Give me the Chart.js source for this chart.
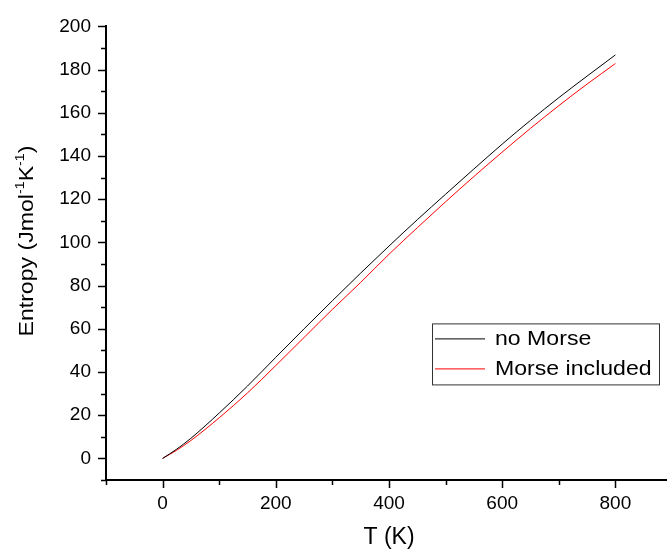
<!DOCTYPE html>
<html>
<head>
<meta charset="utf-8">
<script src="https://cdn.jsdelivr.net/npm/chart.js@4/dist/chart.umd.min.js"></script>
<style>
  html, body { margin: 0; padding: 0; background: #fff; overflow: hidden; }
  #wrap { width: 667px; height: 551px; overflow: hidden; }
</style>
</head>
<body>
<div id="wrap"><canvas id="entropyChart" width="684" height="551"></canvas></div>
<script>
// ---- data ----
const temps     = [0, 25, 50, 100, 150, 200, 250, 300, 350, 400, 450, 500, 550, 600, 650, 700, 750, 800];
const noMorse   = [0, 4.3, 9.3, 21, 33.5, 46.8, 60, 73, 85.8, 98.3, 110.5, 122.3, 134, 145.5, 156.5, 167, 177, 186.8];
const withMorse = [0, 3.8, 8.3, 18.8, 30.3, 43, 56, 69, 81.5, 94.5, 106.8, 118.8, 130.5, 141.8, 152.8, 163.3, 173.3, 182.8];
const seriesNames = ['no Morse', 'Morse included'];
const xTitle = 'T (K)';

const FONT = 'Liberation Sans, Arial, sans-serif';
const STRETCH = 1.1; // reference text is a bit wider than Arial

const toPoints = ys => temps.map((t, i) => ({ x: t, y: ys[i] }));

// tick marks: long on labelled values, short on the rest
const tickMarks = {
  id: 'tickMarks',
  afterDraw(chart) {
    const ctx = chart.ctx;
    const xs = chart.scales.x, ys = chart.scales.y;
    ctx.save();
    ctx.strokeStyle = '#000';
    ctx.lineWidth = 1.5;
    ctx.beginPath();
    xs.ticks.forEach(t => {
      const px = Math.round(xs.getPixelForValue(t.value)) + 0.5;
      const len = Math.round(t.value) % 200 === 0 ? 8 : 5;
      ctx.moveTo(px, xs.top);
      ctx.lineTo(px, xs.top + len);
    });
    ys.ticks.forEach(t => {
      const py = Math.round(ys.getPixelForValue(t.value)) + 0.5;
      const len = Math.round(t.value) % 20 === 0 ? 8 : 5;
      ctx.moveTo(ys.right, py);
      ctx.lineTo(ys.right - len, py);
    });
    ctx.stroke();
    ctx.restore();
  }
};

// y title with real superscripts
const yTitle = {
  id: 'yTitle',
  afterDraw(chart) {
    const ctx = chart.ctx;
    const parts = [
      ['Entropy (Jmol', false], ['-1', true], ['K', false], ['-1', true], [')', false]
    ];
    const big = '21px ' + FONT, small = '13px ' + FONT;
    let total = 0;
    parts.forEach(([s, sup]) => { ctx.font = sup ? small : big; total += ctx.measureText(s).width; });
    ctx.save();
    ctx.translate(27, 241);
    ctx.rotate(-Math.PI / 2);
    ctx.scale(STRETCH, 1);
    ctx.fillStyle = '#000';
    ctx.textBaseline = 'middle';
    let x = -total / 2;
    parts.forEach(([s, sup]) => {
      ctx.font = sup ? small : big;
      ctx.fillText(s, x, sup ? -7 : 0);
      x += ctx.measureText(s).width;
    });
    ctx.restore();
  }
};

// boxed legend inside the plot
const boxLegend = {
  id: 'boxLegend',
  afterDraw(chart) {
    const ctx = chart.ctx;
    const ca = chart.chartArea;
    const bx = ca.left + 326, by = ca.top + 297, bw = 227, bh = 61;
    ctx.save();
    ctx.strokeStyle = '#333';
    ctx.lineWidth = 1;
    ctx.strokeRect(bx + 0.5, by + 0.5, bw, bh);
    ctx.font = '21px ' + FONT;
    ctx.textBaseline = 'middle';
    chart.data.datasets.forEach((ds, i) => {
      const ry = by + 15 + i * 30;
      ctx.strokeStyle = ds.borderColor;
      ctx.beginPath();
      ctx.moveTo(bx + 3, ry + 0.5);
      ctx.lineTo(bx + 53, ry + 0.5);
      ctx.stroke();
      ctx.save();
      ctx.translate(bx + 63, ry + 1);
      ctx.scale(STRETCH, 1);
      ctx.fillStyle = '#000';
      ctx.fillText(ds.label, 0, 0);
      ctx.restore();
    });
    ctx.restore();
  }
};

new Chart(document.getElementById('entropyChart'), {
  type: 'line',
  data: {
    datasets: [
      { label: seriesNames[0], data: toPoints(noMorse), borderColor: '#000000', borderWidth: 1,
        pointRadius: 0, cubicInterpolationMode: 'monotone', fill: false },
      { label: seriesNames[1], data: toPoints(withMorse), borderColor: '#ff0000', borderWidth: 1,
        pointRadius: 0, cubicInterpolationMode: 'monotone', fill: false }
    ]
  },
  options: {
    responsive: false,
    animation: false,
    layout: { padding: { top: 24, right: 0, left: 0, bottom: 0 } },
    plugins: { legend: { display: false }, tooltip: { enabled: false } },
    scales: {
      x: {
        type: 'linear',
        min: -100, max: 900,
        grid: { display: true, drawOnChartArea: false, drawTicks: false },
        border: { display: true, color: '#000', width: 2 },
        ticks: {
          stepSize: 100, padding: 12, color: '#000', maxRotation: 0, autoSkip: false,
          font: { family: FONT, size: 19 },
          callback: v => (v % 200 === 0 && v >= 0 && v <= 800) ? String(v) : ''
        },
        title: { display: true, text: xTitle, color: '#000', font: { family: FONT, size: 23 }, padding: { top: 0, bottom: 0 } },
        afterFit: s => { s.height = 71; }
      },
      y: {
        min: -10, max: 200,
        grid: { display: true, drawOnChartArea: false, drawTicks: false },
        border: { display: true, color: '#000', width: 2 },
        ticks: {
          stepSize: 10, padding: 15, color: '#000', autoSkip: false,
          font: { family: FONT, size: 19 },
          callback: v => (v % 20 === 0) ? String(v) : ''
        },
        afterFit: s => { s.width = 106; }
      }
    }
  },
  plugins: [tickMarks, yTitle, boxLegend]
});
</script>
</body>
</html>
